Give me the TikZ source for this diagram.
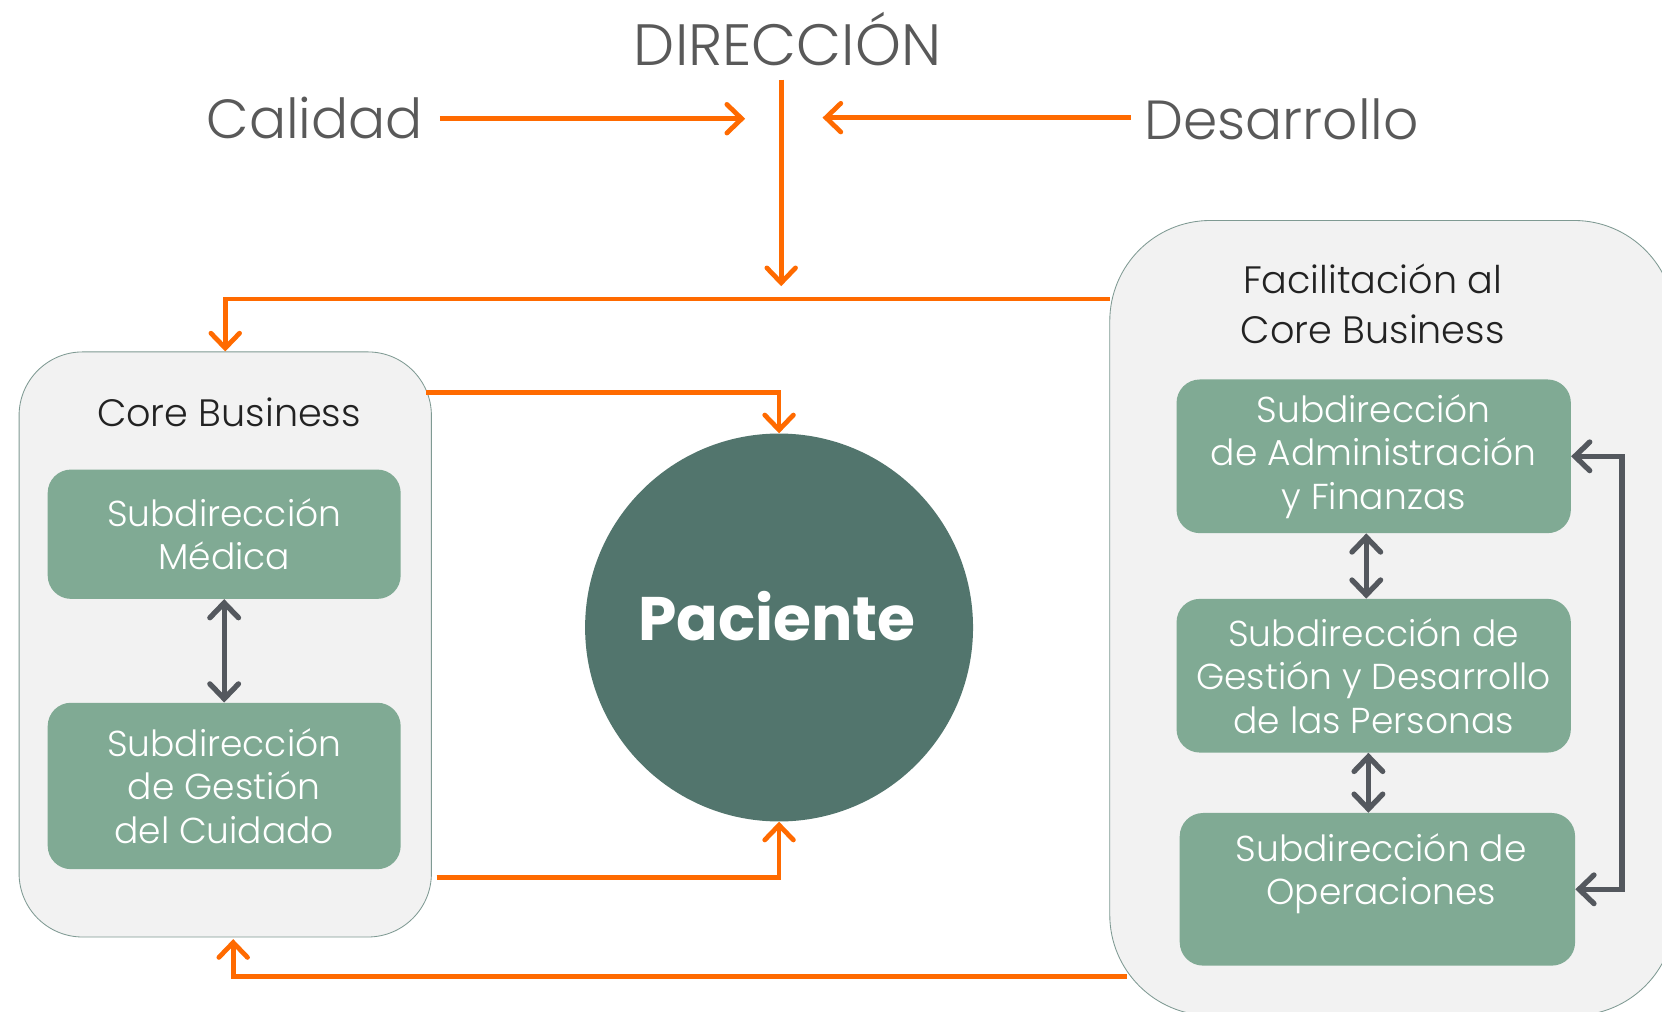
\documentclass[tikz,border=0pt]{standalone}
\usepackage{fontspec}
\IfFontExistsTF{Poppins Light}{\setmainfont{Poppins Light}}{\setmainfont{Poppins}}
\newfontfamily\pacfont{Poppins}
\usetikzlibrary{arrows.meta}
\definecolor{orng}{HTML}{FF6A00}
\definecolor{boxgreen}{HTML}{80AA94}
\definecolor{circgreen}{HTML}{52756D}
\definecolor{panel}{HTML}{F2F2F2}
\definecolor{panelline}{HTML}{7F9A93}
\definecolor{darkgray}{HTML}{54585E}
\definecolor{titlegray}{HTML}{595959}
\definecolor{labelblack}{HTML}{222222}
\begin{document}
\begin{tikzpicture}[x=1pt,y=-1pt,
  oarrow/.style={draw=orng,line width=4.5pt,-{Straight Barb[length=14pt,width=27pt,line cap=round]}},
  garrow/.style={draw=darkgray,line width=5pt,{Straight Barb[length=14pt,width=27pt,line cap=round]}-{Straight Barb[length=14pt,width=27pt,line cap=round]}},
  panelbox/.style={draw=panelline,line width=0.8pt,fill=panel,rounded corners=#1},
  subbox/.style={fill=boxgreen,rounded corners=22pt,text=white,align=center,inner sep=0pt,
    font=\fontsize{34}{41}\selectfont},
  bigtitle/.style={text=titlegray,inner sep=0pt,font=\fontsize{#1}{60}\selectfont},
  paneltitle/.style={text=labelblack,inner sep=0pt,align=center,font=\fontsize{36}{47}\selectfont}
]
\useasboundingbox (0,0) rectangle (1568,954);
\clip (0,0) rectangle (1568,954);
\fill[white] (0,0) rectangle (1568,954);

% panels
\node[panelbox=60pt,minimum width=389pt,minimum height=552pt] (core) at (212.5,608) {};
\node[panelbox=95pt,minimum width=533pt,minimum height=750pt] (fac) at (1313.5,583) {};

% titles
\node[bigtitle=55] (dir) at (743,37) {DIRECCIÓN};
\node[bigtitle=52] (cal) at (297,111) {Calidad};
\node[bigtitle=52] (des) at (1209,113) {Desarrollo};
\node[paneltitle] (coret) at (216,389) {Core Business};
\node[paneltitle] (fact) at (1295,287) {Facilitación al\\Core Business};

% sub boxes
\node[subbox,minimum width=333pt,minimum height=122pt] (med) at (211.5,504) {Subdirección\\Médica};
\node[subbox,minimum width=333pt,minimum height=157pt] (cui) at (211.5,741.5) {Subdirección\\de Gestión\\del Cuidado};
\node[subbox,minimum width=372pt,minimum height=145pt] (adm) at (1296,430.5) {Subdirección\\de Administración\\y Finanzas};
\node[subbox,minimum width=372pt,minimum height=145pt] (gdp) at (1296,637.5) {Subdirección de\\Gestión y Desarrollo\\de las Personas};
\node[subbox,minimum width=373pt,minimum height=144pt] (ope) at (1299.5,839) {};
\node[text=white,align=center,inner sep=0pt,font=\fontsize{34}{41}\selectfont] (opet) at (1303,824) {Subdirección de\\Operaciones};

% patient
\node[circle,fill=circgreen,minimum size=366pt,inner sep=0pt] (pac) at (735,592) {};
\node[text=white,inner sep=0pt,font=\pacfont\fontsize{58}{64}\selectfont\bfseries] (pact) at (733,581) {Paciente};

% coordinates for free ends
\coordinate (calS) at (415,112);
\coordinate (calE) at (703,112);
\coordinate (desS) at (1067,111);
\coordinate (desE) at (776,111);
\coordinate (dirS) at (737,75);
\coordinate (dirE) at (737,270);
\coordinate (facTop) at (1047,282);
\coordinate (coreTR) at (402,370);
\coordinate (coreBR) at (412,828);
\coordinate (facBot) at (1063,921);
\coordinate (coreBot) at (220,886);

% orange connectors
\draw[oarrow] (calS) -- (calE);
\draw[oarrow] (desS) -- (desE);
\draw[oarrow] (dirS) -- (dirE);
\draw[oarrow] (facTop) -| (core.north);
\draw[oarrow] (coreTR) -| (pac.north);
\draw[oarrow] (coreBR) -| (pac.south);
\draw[oarrow] (facBot) -| (coreBot);

% gray connectors
\draw[garrow] (med.south) -- (cui.north);
\draw[garrow] ([xshift=-7pt]adm.south) -- ([xshift=-7pt]gdp.north);
\draw[garrow] ([xshift=-5pt]gdp.south) -- ([xshift=-5pt]gdp.south |- ope.north);
\draw[garrow] (adm.east) -- ++(48,0) |- (ope.east);
\end{tikzpicture}
\end{document}
